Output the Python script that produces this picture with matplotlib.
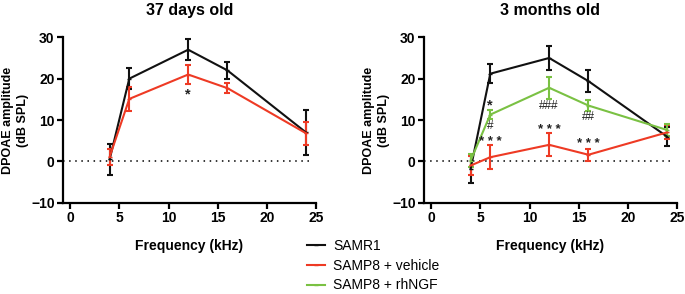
import matplotlib
matplotlib.use("Agg")
import matplotlib.pyplot as plt

plt.rcParams['font.family'] = ['Liberation Sans', 'DejaVu Sans']

freqs = [4, 6, 12, 16, 24]

# 37 days old
young_samr1 = [0.5, 20.0, 27.0, 22.0, 7.0]
young_samr1_err = [3.8, 2.5, 2.6, 2.1, 5.4]
young_veh = [1.1, 15.1, 21.0, 17.7, 6.8]
young_veh_err = [2.0, 2.8, 2.3, 1.2, 2.8]

# 3 months old
old_samr1 = [-1.8, 21.2, 25.0, 19.4, 6.0]
old_samr1_err = [3.4, 2.3, 2.8, 2.6, 2.3]
old_veh = [-1.0, 1.0, 4.0, 1.6, 7.0]
old_veh_err = [2.4, 2.9, 2.8, 1.5, 1.7]
old_ngf = [0.2, 11.3, 17.8, 13.5, 7.6]
old_ngf_err = [1.5, 1.1, 2.7, 1.3, 1.4]

# significance marks (x, y, text)
young_marks = [(12, 16.2, '*')]
old_marks = [(6, 13.4, '*'), (6, 8.6, '#'), (6, 4.6, '* * *'),
             (12, 13.4, '###'), (12, 7.6, '* * *'),
             (16, 10.8, '##'), (16, 4.3, '* * *')]

labels = ['SAMR1', 'SAMP8 + vehicle', 'SAMP8 + rhNGF']
colors = ['#111111', '#ee3a24', '#7ac143']

fig = plt.figure(figsize=(6.85, 2.94), dpi=100)
ax1 = fig.add_axes([0.092, 0.3105, 0.369, 0.5626])
ax2 = fig.add_axes([0.619, 0.3105, 0.369, 0.5626])


def draw_series(ax, y, err, color, label):
    ax.errorbar(freqs, y, yerr=err, color=color, lw=1.5, elinewidth=1.5,
                capsize=2.5, capthick=1.5, marker='_', ms=3, label=label)


def add_marks(ax, marks):
    for x, y, s in marks:
        if '#' in s:
            ax.text(x, y, s, ha='center', va='center', fontsize=8.5, color='#222222')
        elif s == '*':
            ax.text(x, y, s, ha='center', va='center', fontsize=10.5,
                    fontweight='bold', color='#222222')
        else:
            ax.text(x, y, s, ha='center', va='center', fontsize=9.5,
                    fontweight='bold', color='#222222')


def style(ax, title):
    ax.axhline(0, xmin=0, xmax=0.975, color='black', lw=1.1, ls=(0, (1, 3)), zorder=0)
    ax.set_xlim(-0.75, 25)
    ax.set_ylim(-10, 30)
    ax.set_xticks([0, 5, 10, 15, 20, 25])
    ax.set_yticks([-10, 0, 10, 20, 30])
    for s in ['top', 'right']:
        ax.spines[s].set_visible(False)
    for s in ['left', 'bottom']:
        ax.spines[s].set_linewidth(1.6)
    ax.tick_params(width=1.6, length=4, labelsize=10, pad=2)
    for t in ax.get_xticklabels() + ax.get_yticklabels():
        t.set_fontweight('bold')
    ax.set_title(title, fontsize=11.5, fontweight='bold', pad=16)
    ax.set_xlabel('Frequency (kHz)', fontsize=10, fontweight='bold', labelpad=10)
    ax.set_ylabel('DPOAE amplitude\n(dB SPL)', fontsize=9, fontweight='bold',
                  labelpad=1.5, linespacing=1.35)


draw_series(ax1, young_samr1, young_samr1_err, colors[0], labels[0])
draw_series(ax1, young_veh, young_veh_err, colors[1], labels[1])
add_marks(ax1, young_marks)
style(ax1, '37 days old')

draw_series(ax2, old_samr1, old_samr1_err, colors[0], labels[0])
draw_series(ax2, old_veh, old_veh_err, colors[1], labels[1])
draw_series(ax2, old_ngf, old_ngf_err, colors[2], labels[2])
add_marks(ax2, old_marks)
style(ax2, '3 months old')

handles, _ = ax2.get_legend_handles_labels()
handles = [h[0] for h in handles]
fig.legend(handles, labels, loc='upper left', bbox_to_anchor=(0.448, 0.186),
           frameon=False, fontsize=10, handlelength=1.3, handletextpad=0.6,
           labelspacing=0.4, borderpad=0, borderaxespad=0)

fig.savefig('out.png', dpi=100)
